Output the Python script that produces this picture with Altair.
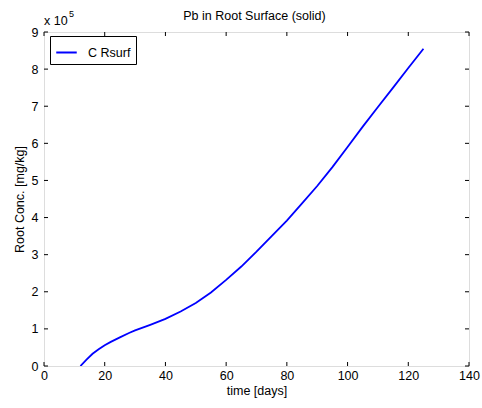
import altair as alt
import pandas as pd

# data (root concentration in units of 1e5 mg/kg)
t_days = [12, 14, 16, 18, 20, 22, 25, 28, 30, 35, 40, 45, 50, 55, 60, 65, 70,
          75, 80, 85, 90, 95, 100, 105, 110, 115, 120, 125]
conc_1e5 = [0.0, 0.17, 0.33, 0.45, 0.56, 0.65, 0.77, 0.89, 0.96, 1.11, 1.27, 1.47,
            1.70, 1.98, 2.32, 2.68, 3.08, 3.50, 3.92, 4.38, 4.85, 5.36, 5.90, 6.45,
            6.98, 7.50, 8.03, 8.55]
x_ticks = [0, 20, 40, 60, 80, 100, 120, 140]
y_ticks = [0, 1, 2, 3, 4, 5, 6, 7, 8, 9]
series_name = "C Rsurf"
title_text = "Pb in Root Surface (solid)"

W, H = 425, 334
FONT = "Liberation Sans"
FS = 12.5

df = pd.DataFrame({"t": t_days, "c": conc_1e5, "s": series_name})
xt = pd.DataFrame({"v": x_ticks})
yt = pd.DataFrame({"v": y_ticks})

xs = alt.Scale(domain=[0, 140], nice=False, zero=False)
ys = alt.Scale(domain=[0, 9], nice=False, zero=False)

axis_common = dict(ticks=False, domain=False, grid=False, labelFlush=False,
                   labelOverlap=False, labelFont=FONT, labelFontSize=FS, labelColor="black",
                   titleFont=FONT, titleFontSize=FS, titleColor="black",
                   titleFontWeight="normal")
x_axis = alt.Axis(values=x_ticks, title="time [days]", labelPadding=3, titlePadding=3,
                  **axis_common)
y_axis = alt.Axis(values=y_ticks, title="Root Conc. [mg/kg]", labelPadding=6,
                  titlePadding=5, **axis_common)

line = alt.Chart(df).mark_line(strokeWidth=1.8, clip=True).encode(
    x=alt.X("t:Q", scale=xs, axis=x_axis),
    y=alt.Y("c:Q", scale=ys, axis=y_axis),
    color=alt.Color("s:N", scale=alt.Scale(range=["#0000ff"]),
                    legend=alt.Legend(title=None, orient="none", legendX=6, legendY=4,
                                      symbolType="stroke", strokeColor="black",
                                      padding=5, symbolSize=420, symbolStrokeWidth=2,
                                      labelFontSize=FS, labelFont=FONT, labelColor="black",
                                      labelOffset=10, fillColor="white")),
)

tb = alt.Chart(xt).mark_rule(color="black", strokeWidth=1).encode(
    x=alt.X("v:Q", scale=xs, axis=x_axis), y=alt.value(H), y2=alt.value(H - 4))
tt = alt.Chart(xt).mark_rule(color="black", strokeWidth=1).encode(
    x=alt.X("v:Q", scale=xs, axis=x_axis), y=alt.value(0), y2=alt.value(4))
tl = alt.Chart(yt).mark_rule(color="black", strokeWidth=1).encode(
    y=alt.Y("v:Q", scale=ys, axis=y_axis), x=alt.value(0), x2=alt.value(4))
tr = alt.Chart(yt).mark_rule(color="black", strokeWidth=1).encode(
    y=alt.Y("v:Q", scale=ys, axis=y_axis), x=alt.value(W), x2=alt.value(W - 4))

one = pd.DataFrame({"a": [0]})
mult = alt.Chart(one).mark_text(
    align="left", baseline="alphabetic", fontSize=FS, font=FONT, color="black").encode(
    x=alt.value(0), y=alt.value(-7), text=alt.value("x 10"))
sup = alt.Chart(one).mark_text(
    align="left", baseline="alphabetic", fontSize=9, font=FONT, color="black").encode(
    x=alt.value(25), y=alt.value(-15), text=alt.value("5"))
ttl = alt.Chart(one).mark_text(
    align="center", baseline="alphabetic", fontSize=FS, font=FONT, color="black").encode(
    x=alt.value(W / 2 - 2), y=alt.value(-12), text=alt.value(title_text))

chart = alt.layer(line, tb, tt, tl, tr, mult, sup, ttl).properties(
    width=W, height=H,
    padding={"left": 44, "top": 32, "right": 13, "bottom": 42},
    autosize=alt.AutoSizeParams(type="none"),
).configure_view(stroke="black", strokeWidth=1).configure(background="white")

chart.save("out.html", embed_options={"renderer": "svg", "actions": False})
